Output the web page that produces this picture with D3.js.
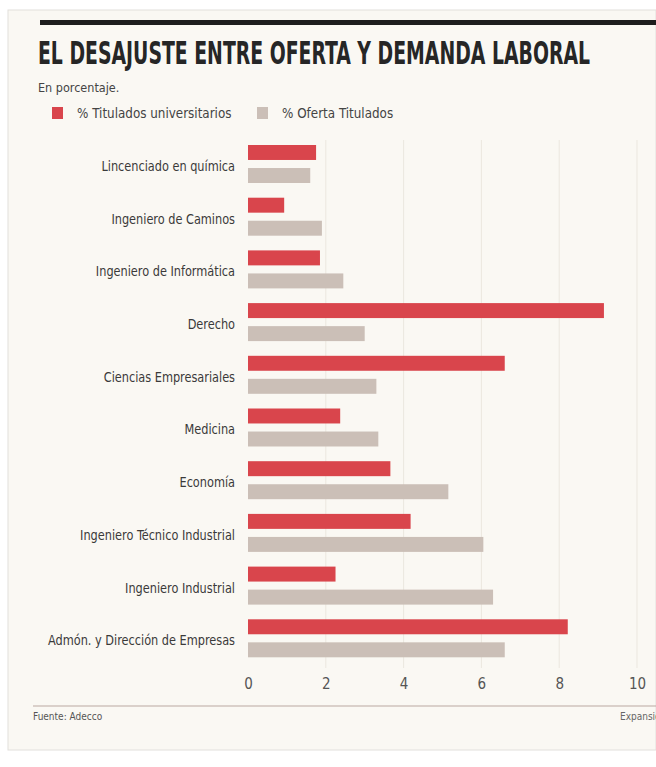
<!DOCTYPE html>
<html>
<head>
<meta charset="utf-8">
<script src="https://cdn.jsdelivr.net/npm/d3@7"></script>
<style>
  html, body { margin: 0; padding: 0; background: #ffffff; }
  svg { display: block; }
  text { font-family: "DejaVu Sans Condensed", "DejaVu Sans", sans-serif; font-stretch: condensed; }
</style>
</head>
<body>
<div id="chart"></div>
<script>
var categories = ["Lincenciado en química", "Ingeniero de Caminos", "Ingeniero de Informática",
  "Derecho", "Ciencias Empresariales", "Medicina", "Economía",
  "Ingeniero Técnico Industrial", "Ingeniero Industrial", "Admón. y Dirección de Empresas"];
var titulados = [1.75, 0.93, 1.85, 9.15, 6.6, 2.37, 3.66, 4.18, 2.25, 8.22];
var oferta = [1.6, 1.9, 2.45, 3.0, 3.3, 3.35, 5.15, 6.05, 6.3, 6.6];
var seriesNames = ["% Titulados universitarios", "% Oferta Titulados"];
var tickValues = [0, 2, 4, 6, 8, 10];

var colors = ["#d9454c", "#cbbfb7"];
var width = 656, height = 767;

var svg = d3.select("#chart").append("svg")
  .attr("width", width).attr("height", height);

// panel
svg.append("rect").attr("x", 8).attr("y", 10).attr("width", width - 8).attr("height", 740)
  .attr("fill", "#faf8f3").attr("stroke", "#e2e0dc").attr("stroke-width", 1);

svg.append("rect").attr("x", 40).attr("y", 20).attr("width", width - 40).attr("height", 5)
  .attr("fill", "#1e1e1e");

svg.append("text").attr("x", 38).attr("y", 64)
  .attr("textLength", 552).attr("lengthAdjust", "spacingAndGlyphs")
  .style("font-size", "32px").style("font-weight", "bold").attr("fill", "#262626")
  .text("EL DESAJUSTE ENTRE OFERTA Y DEMANDA LABORAL");

svg.append("text").attr("x", 38).attr("y", 92)
  .style("font-size", "12.5px").attr("fill", "#444")
  .text("En porcentaje.");

// legend
var legendX = [52, 257];
var legend = svg.selectAll("g.legend").data(seriesNames).enter().append("g")
  .attr("class", "legend")
  .attr("transform", function (d, i) { return "translate(" + legendX[i] + ",107)"; });
legend.append("rect").attr("width", 11).attr("height", 12)
  .attr("fill", function (d, i) { return colors[i]; });
legend.append("text").attr("x", 25).attr("y", 11)
  .style("font-size", "13.3px").attr("fill", "#444")
  .text(function (d) { return d; });

var x = d3.scaleLinear().domain([0, 10]).range([248, 637]);
var y = d3.scaleBand().domain(categories).range([140, 667]);
var ySub = d3.scaleBand().domain([0, 1]).range([5, 43]).paddingInner(0.35);

// faint gridlines
svg.selectAll("line.grid").data(tickValues.slice(1)).enter().append("line")
  .attr("class", "grid")
  .attr("x1", function (d) { return x(d); }).attr("x2", function (d) { return x(d); })
  .attr("y1", 140).attr("y2", 668)
  .attr("stroke", "#ebe7df").attr("stroke-width", 1);

var groups = svg.selectAll("g.cat").data(categories).enter().append("g")
  .attr("class", "cat")
  .attr("transform", function (d) { return "translate(0," + y(d) + ")"; });

// squeeze labels horizontally to look like the condensed newspaper face
groups.append("text")
  .attr("transform", "translate(235,26) scale(0.9,1)")
  .attr("dy", "0.35em")
  .attr("text-anchor", "end")
  .style("font-size", "14px").attr("fill", "#3a3a3a")
  .text(function (d) { return d; });

groups.selectAll("rect").data(function (d, i) {
    return [{ s: 0, v: titulados[i] }, { s: 1, v: oferta[i] }];
  }).enter().append("rect")
  .attr("x", x(0))
  .attr("y", function (d) { return ySub(d.s); })
  .attr("width", function (d) { return x(d.v) - x(0); })
  .attr("height", ySub.bandwidth())
  .attr("fill", function (d) { return colors[d.s]; });

// axis
var axis = d3.axisBottom(x).tickValues(tickValues).tickSize(0).tickPadding(0);
var gAxis = svg.append("g").attr("transform", "translate(0,678)").call(axis);
gAxis.select(".domain").remove();
gAxis.selectAll("text")
  .style("font-size", "15px").attr("fill", "#555")
  .style("font-family", "\"DejaVu Sans Condensed\", \"DejaVu Sans\", sans-serif")
  .style("font-stretch", "condensed");

svg.append("line").attr("x1", 33).attr("x2", width).attr("y1", 706).attr("y2", 706)
  .attr("stroke", "#b9a7a2").attr("stroke-width", 1.2);

svg.append("text").attr("x", 33).attr("y", 720)
  .style("font-size", "10px").attr("fill", "#555")
  .text("Fuente: Adecco");

svg.append("text").attr("x", 620).attr("y", 720)
  .style("font-size", "10px").attr("fill", "#666")
  .text("Expansión");
</script>
</body>
</html>
